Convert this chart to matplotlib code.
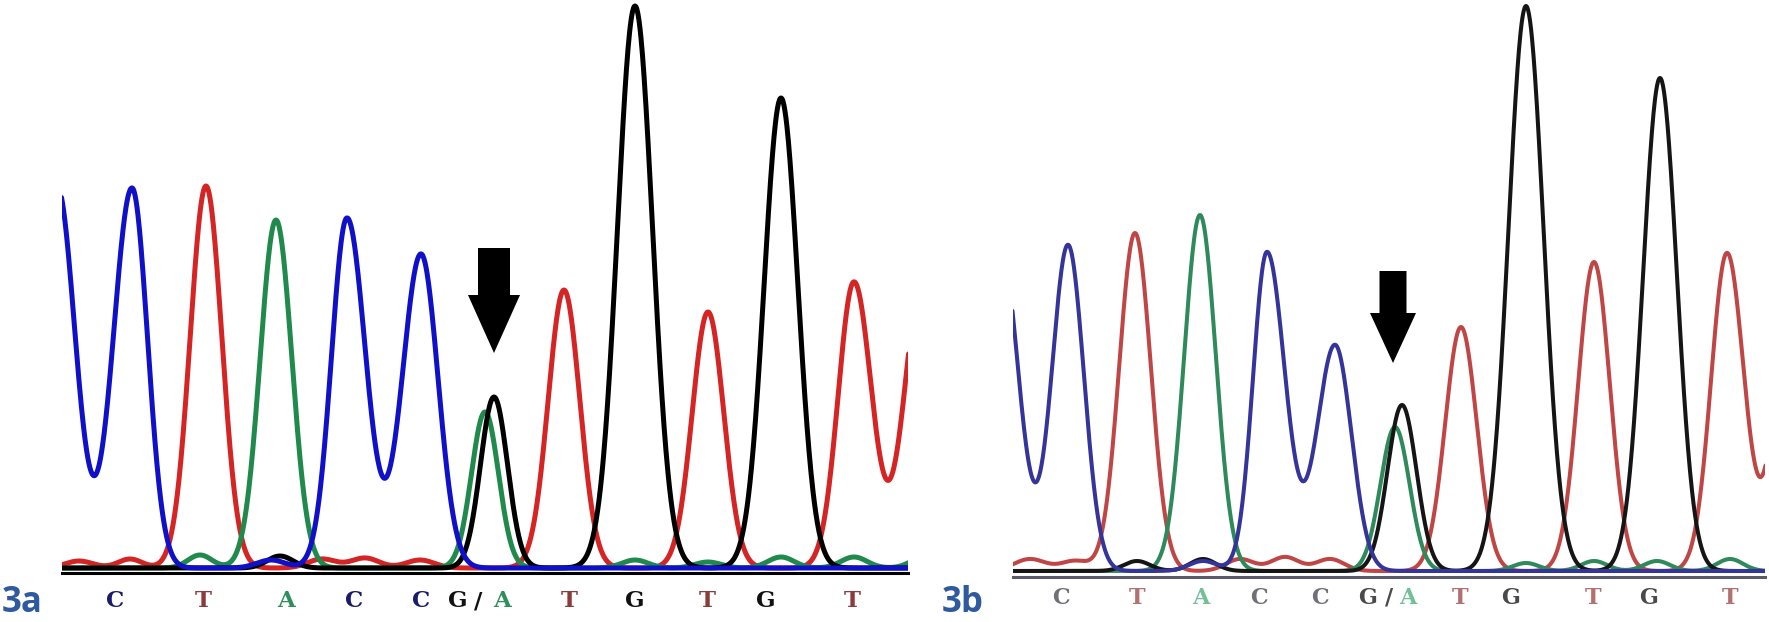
import numpy as np
import matplotlib.pyplot as plt
from matplotlib.patches import FancyArrow

W, H = 1769, 622

# peaks: (scan position, height, left width, right width)
# units are pixels of the 1769x622 image, heights measured from each panel baseline
a_blue = [(57, 382, 18, 18), (132, 380, 18.5, 15.5), (271, 8, 14, 14),
          (347, 350, 15.5, 18.5), (421, 314, 18.5, 17)]
a_red = [(79, 7, 14, 14), (130, 9, 12, 12), (206, 382, 15.8, 15.8), (322, 9, 14, 14),
         (365, 10, 14, 14), (420, 8, 14, 14), (564, 278, 15.8, 15.8), (708, 256, 15.8, 15.8),
         (854, 286, 15.8, 17.5), (923, 293, 18, 18)]
a_green = [(200, 13, 12, 12), (276, 348, 15.8, 15.8), (485, 156, 13.5, 13.5), (635, 8, 13, 13),
           (708, 6, 13, 13), (781, 11, 13, 13), (854, 11, 13, 13), (925, 12, 13, 13)]
a_black = [(280, 12, 13, 13), (494, 171, 13.5, 13.5), (635, 562, 17.5, 17.5),
           (781, 470, 16.8, 16.8)]

b_blue = [(1000, 330, 18, 18), (1068, 326, 16, 15.8), (1203, 10, 14, 14),
          (1267, 319, 14, 18), (1335, 226, 18, 16.5)]
b_red = [(1030, 12, 16, 16), (1075, 10, 14, 14), (1135, 338, 15.8, 15.8), (1240, 12, 14, 14),
         (1285, 14, 14, 14), (1330, 12, 14, 14), (1461, 244, 15.8, 15.8),
         (1594, 309, 15.8, 15.8), (1727, 318, 15.8, 17), (1793, 300, 17, 17)]
b_green = [(1200, 356, 15.8, 15.8), (1395, 144, 14.5, 14.5), (1526, 8, 13, 13),
           (1594, 10, 13, 13), (1657, 10, 13, 13), (1730, 12, 13, 13)]
b_black = [(1137, 10, 13, 13), (1203, 12, 13, 13), (1402, 166, 14.5, 14.5),
           (1526, 565, 17.5, 17.5), (1660, 493, 16.8, 16.8)]

# base calls under each panel
a_calls = ['C', 'T', 'A', 'C', 'C', 'G', '/', 'A', 'T', 'G', 'T', 'G', 'T']
a_call_x = [115, 203, 286, 354, 421, 458, 478, 502, 569, 635, 707, 766, 852]
b_calls = ['C', 'T', 'A', 'C', 'C', 'G', '/', 'A', 'T', 'G', 'T', 'G', 'T']
b_call_x = [1061, 1137, 1201, 1259, 1320, 1368, 1389, 1408, 1460, 1511, 1593, 1649, 1730]

# arrow over the G/A position: (x, top, tip)
a_arrow = (494, 248, 353)
b_arrow = (1393, 271, 363)


def trace(x, peaks):
    y = np.zeros_like(x)
    for c, h, sl, sr in peaks:
        s = np.where(x < c, sl, sr)
        y += h * np.exp(-(x - c) ** 2 / (2 * s ** 2))
    return y


def panel(fig, x0, x1, zero_y, spine_y, traces, calls, call_x, call_cols, call_y,
          arrow, shaft, head, spine_col, lw, font_kw):
    ax = fig.add_axes([x0 / W, (H - spine_y) / H, (x1 - x0) / W, spine_y / H])
    x = np.arange(x0 - 2, x1 + 2, 0.5)
    for peaks, col, z in traces:
        ax.plot(x, trace(x, peaks), color=col, lw=lw, zorder=z,
                solid_capstyle='round', solid_joinstyle='round')
    ax.set_xlim(x0, x1)
    ax.set_ylim(zero_y - spine_y, zero_y)
    ax.set_xticks([])
    ax.set_yticks([])
    for s in ['top', 'left', 'right']:
        ax.spines[s].set_visible(False)
    ax.spines['bottom'].set_color(spine_col)
    ax.spines['bottom'].set_linewidth(2.2)
    ax.patch.set_alpha(0)

    for t, cx in zip(calls, call_x):
        ax.text(cx, zero_y - call_y, t, color=call_cols[t], ha='center', va='center',
                clip_on=False, **font_kw)

    ax_x, top, tip = arrow
    ax.add_patch(FancyArrow(ax_x, zero_y - top, 0, -(tip - top), width=shaft,
                            head_width=head[0], head_length=head[1],
                            length_includes_head=True, color='black', lw=0, zorder=6))
    return ax


fig = plt.figure(figsize=(W / 100, H / 100), dpi=100)

a_cols = {'C': '#1b1b6b', 'T': '#8a3b3b', 'A': '#2f8f5a', 'G': '#111111', '/': '#111111'}
b_cols = {'C': '#707078', 'T': '#b37070', 'A': '#74c096', 'G': '#4a4a4a', '/': '#4a4a4a'}
font_kw = dict(family='DejaVu Serif', fontweight='bold', fontsize=16.5)

panel(fig, 62, 908, 568, 573,
      [(a_red, '#d42424', 1), (a_green, '#1f8a4c', 2), (a_black, '#000000', 3),
       (a_blue, '#1010c8', 4)],
      a_calls, a_call_x, a_cols, 601, a_arrow, 32, (52, 58), '#000000', 3.6, font_kw)

panel(fig, 1013, 1765, 571, 577,
      [(b_red, '#c04646', 1), (b_green, '#2e8a5a', 2), (b_black, '#151515', 3),
       (b_blue, '#34349a', 4)],
      b_calls, b_call_x, b_cols, 598, b_arrow, 27, (46, 50), '#5a5a6a', 2.9,
      dict(font_kw, fontsize=16))

fig.text(2 / W, 1 / H, '3a', color='#2f5a9e', fontsize=25, fontweight='bold',
         family='Open Sans', ha='left', va='bottom')
fig.text(942 / W, 1 / H, '3b', color='#2f5a9e', fontsize=25, fontweight='bold',
         family='Open Sans', ha='left', va='bottom')

fig.savefig('out.png', dpi=100)
